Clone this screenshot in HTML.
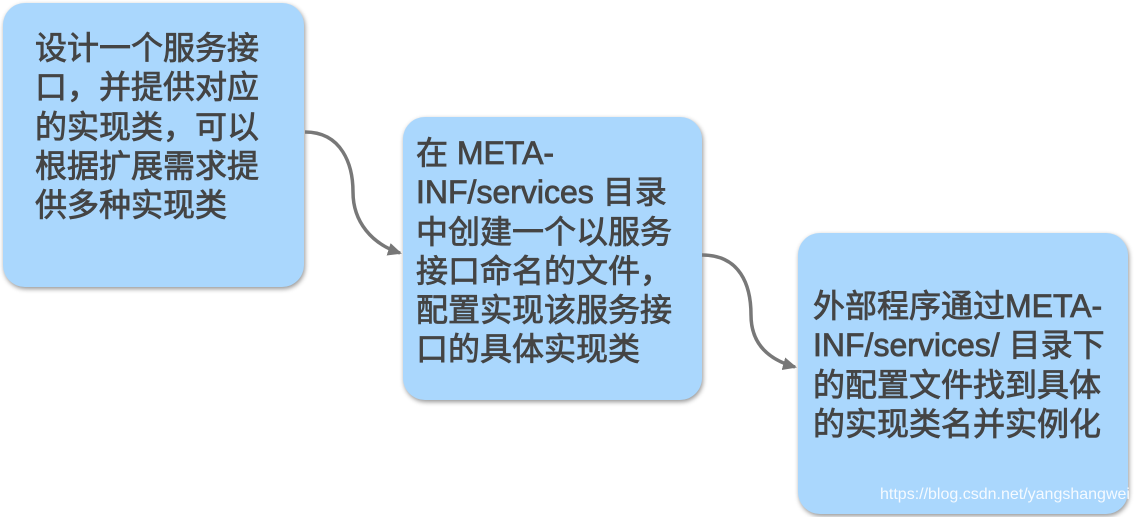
<!DOCTYPE html>
<html>
<head>
<meta charset="utf-8">
<style>
  html, body { margin:0; padding:0; }
  body { width:1137px; height:517px; background:#ffffff; position:relative; overflow:hidden; }
  .box { position:absolute; background:#aad7fd; border-radius:22px;
         box-shadow: 1px 2px 5px rgba(0,0,0,0.42); }
  .txt { position:absolute; font-family:"Liberation Sans","Noto Sans CJK SC",sans-serif;
         font-size:32px; line-height:39.3px; color:#444444; white-space:nowrap;
         -webkit-text-stroke:0.8px #444444; }
  .wm { position:absolute; left:880px; top:486px; font-family:"Liberation Sans",sans-serif;
        font-size:16px; color:rgba(255,255,255,0.88); white-space:nowrap; }
  svg { position:absolute; left:0; top:0; }
</style>
</head>
<body>
  <div class="box" style="left:3px;top:3px;width:301px;height:284px;"></div>
  <div class="box" style="left:403px;top:117px;width:299px;height:283px;"></div>
  <div class="box" style="left:798px;top:233px;width:330px;height:281px;"></div>

  <svg width="1137" height="517" viewBox="0 0 1137 517">
    <defs>
      <marker id="ah" markerUnits="userSpaceOnUse" markerWidth="16" markerHeight="14" refX="12" refY="6.5" orient="auto">
        <path d="M0,0 L14,6.5 L0,13 z" fill="#777777"/>
      </marker>
    </defs>
    <path d="M305,132 C342,132 353,165 353,192 C353,222 372,244 400,253" fill="none" stroke="#787878" stroke-width="3.5" marker-end="url(#ah)"/>
    <path d="M702,255 C740,255 751,285 751,315 C751,345 770,360 795,367" fill="none" stroke="#787878" stroke-width="3.5" marker-end="url(#ah)"/>
  </svg>

  <div class="txt" style="left:35px;top:29px;">设计一个服务接<br>口，并提供对应<br>的实现类，可以<br>根据扩展需求提<br>供多种实现类</div>
  <div class="txt" style="left:416px;top:134px;">在 META-<br>INF/services 目录<br>中创建一个以服务<br>接口命名的文件，<br>配置实现该服务接<br>口的具体实现类</div>
  <div class="txt" style="left:813px;top:287px;">外部程序通过META-<br>INF/services/ 目录下<br>的配置文件找到具体<br>的实现类名并实例化</div>

  <div class="wm">https://blog.csdn.net/yangshangwei</div>
</body>
</html>
